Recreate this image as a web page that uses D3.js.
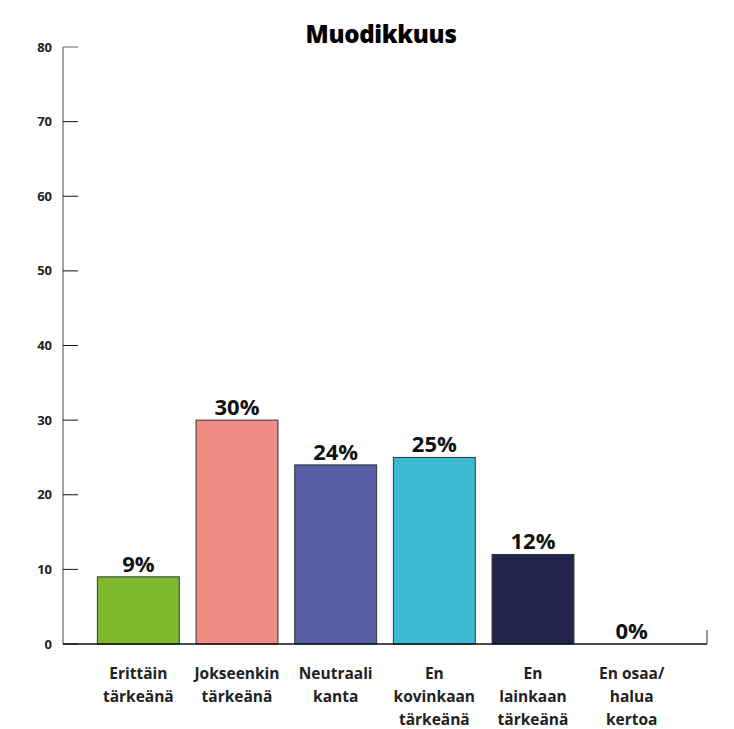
<!DOCTYPE html>
<html>
<head>
<meta charset="utf-8">
<script src="https://cdn.jsdelivr.net/npm/d3@7"></script>
<style>
  body { margin: 0; background: #fff; }
  svg { font-family: "Open Sans", "Noto Sans", sans-serif; }
</style>
</head>
<body>
<div id="chart"></div>
<script>
// data
const categories = [
  ["Erittäin", "tärkeänä"],
  ["Jokseenkin", "tärkeänä"],
  ["Neutraali", "kanta"],
  ["En", "kovinkaan", "tärkeänä"],
  ["En", "lainkaan", "tärkeänä"],
  ["En osaa/", "halua", "kertoa"]
];
const values = [9, 30, 24, 25, 12, 0];
const colors = ["#7db92c", "#f18c82", "#595ea8", "#3cbad2", "#23244c", "#ffffff"];
const yTicks = [0, 10, 20, 30, 40, 50, 60, 70, 80];
const title = "Muodikkuus";

const width = 734, height = 729;
const svg = d3.select("#chart").append("svg")
  .attr("width", width)
  .attr("height", height);

const axisLeft = 63, axisRight = 707;
const y = d3.scaleLinear().domain([0, 80]).range([644, 47]);
const x = d3.scaleBand()
  .domain(d3.range(categories.length))
  .range([89, 681])
  .paddingInner(0.17)
  .paddingOuter(0.085);

// title
svg.append("text")
  .attr("x", 381).attr("y", 43)
  .attr("text-anchor", "middle")
  .attr("font-size", 24).attr("font-weight", 800)
  .attr("letter-spacing", -0.3)
  .text(title);

// y axis line
svg.append("line")
  .attr("x1", axisLeft).attr("x2", axisLeft)
  .attr("y1", y(80)).attr("y2", y(0))
  .attr("stroke", "#666").attr("stroke-width", 1.2);

// y ticks (inside) + labels
const yt = svg.append("g");
yt.selectAll("line").data(yTicks).enter().append("line")
  .attr("x1", axisLeft).attr("x2", axisLeft + 15)
  .attr("y1", d => y(d)).attr("y2", d => y(d))
  .attr("stroke", d => d === 80 ? "#666" : "#111").attr("stroke-width", 1);
yt.selectAll("text").data(yTicks).enter().append("text")
  .attr("x", 52).attr("y", d => y(d) + 4.5)
  .attr("text-anchor", "end")
  .attr("font-size", 13).attr("font-weight", 700)
  .attr("fill", "#222")
  .text(d => d);

// bars
svg.selectAll("rect.bar").data(values).enter().append("rect")
  .attr("class", "bar")
  .attr("x", (d, i) => x(i))
  .attr("width", x.bandwidth())
  .attr("y", d => y(d))
  .attr("height", d => y(0) - y(d))
  .attr("fill", (d, i) => colors[i])
  .attr("stroke", "#333").attr("stroke-width", 1);

// x axis line
svg.append("line")
  .attr("x1", axisLeft).attr("x2", axisRight)
  .attr("y1", y(0)).attr("y2", y(0))
  .attr("stroke", "#111").attr("stroke-width", 1.5);
svg.append("line")
  .attr("x1", axisRight).attr("x2", axisRight)
  .attr("y1", y(0) - 14).attr("y2", y(0))
  .attr("stroke", "#333").attr("stroke-width", 1);

// value labels
svg.selectAll("text.val").data(values).enter().append("text")
  .attr("class", "val")
  .attr("x", (d, i) => x(i) + x.bandwidth() / 2)
  .attr("y", d => y(d) - 5)
  .attr("text-anchor", "middle")
  .attr("font-size", 22).attr("font-weight", 700)
  .attr("fill", "#111")
  .text(d => d + "%");

// category labels
const cl = svg.selectAll("text.cat").data(categories).enter().append("text")
  .attr("class", "cat")
  .attr("text-anchor", "middle")
  .attr("font-size", 15.5).attr("font-weight", 700)
  .attr("fill", "#222");
cl.selectAll("tspan").data((d, i) => d.map(s => ({ s, i }))).enter().append("tspan")
  .attr("x", d => x(d.i) + x.bandwidth() / 2)
  .attr("y", (d, j) => 679 + j * 23)
  .text(d => d.s);
</script>
</body>
</html>
